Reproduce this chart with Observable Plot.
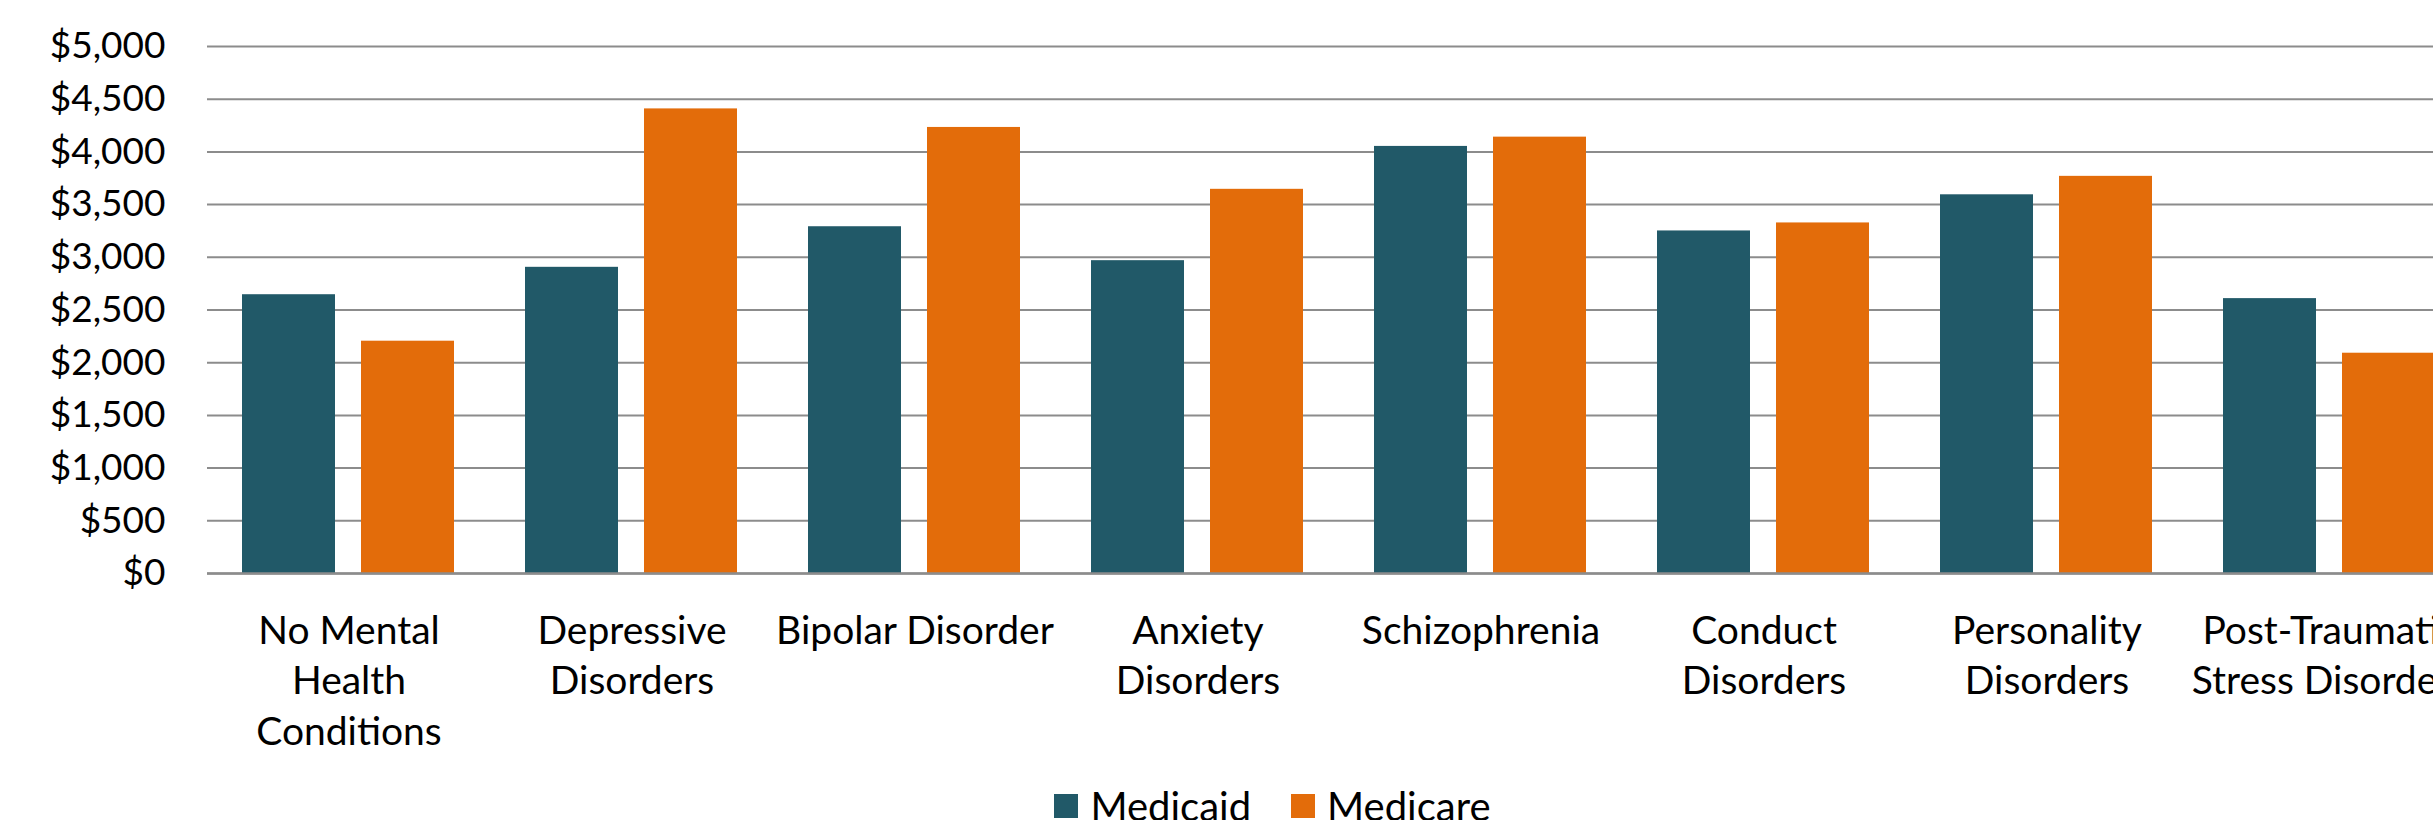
<!DOCTYPE html>
<html>
<head>
<meta charset="utf-8">
<script src="https://cdn.jsdelivr.net/npm/d3@7"></script>
<script src="https://cdn.jsdelivr.net/npm/@observablehq/plot@0.6"></script>
<style>
  html, body { margin: 0; padding: 0; background: #fff; overflow: hidden; }
  #wrap { width: 2545px; font-family: Lato, "Open Sans", sans-serif; color: #000; }
  #legend { display: flex; justify-content: center; align-items: center; margin-top: 16px; font-size: 40px; line-height: 40px; }
  .item { display: flex; align-items: center; margin: 0 20px; }
  .sw { width: 24px; height: 24px; margin-right: 12px; display: inline-block; }
</style>
</head>
<body>
<div id="wrap">
  <div id="chart"></div>
  <div id="legend"></div>
</div>
<script>
const categories = [
  "No Mental Health Conditions",
  "Depressive Disorders",
  "Bipolar Disorder",
  "Anxiety Disorders",
  "Schizophrenia",
  "Conduct Disorders",
  "Personality Disorders",
  "Post-Traumatic Stress Disorders"
];
const categoryLabels = [
  "No Mental\nHealth\nConditions",
  "Depressive\nDisorders",
  "Bipolar Disorder",
  "Anxiety\nDisorders",
  "Schizophrenia",
  "Conduct\nDisorders",
  "Personality\nDisorders",
  "Post-Traumatic\nStress Disorders"
];
const seriesNames = ["Medicaid", "Medicare"];
const seriesColors = ["#215968", "#E36C0A"];
const medicaid = [2645, 2905, 3290, 2968, 4052, 3250, 3593, 2608];
const medicare = [2204, 4408, 4232, 3645, 4140, 3326, 3768, 2090];
const yTicks = [0, 500, 1000, 1500, 2000, 2500, 3000, 3500, 4000, 4500, 5000];

const data = categories.flatMap((c, i) => [
  {category: c, series: seriesNames[0], value: medicaid[i]},
  {category: c, series: seriesNames[1], value: medicare[i]}
]);

const chart = Plot.plot({
  width: 2545,
  height: 770,
  marginLeft: 205,
  marginRight: 72,
  marginTop: 46,
  marginBottom: 197,
  style: {fontFamily: "Lato, 'Open Sans', sans-serif", fontSize: "40px", color: "#000", background: "#fff", overflow: "visible"},
  fx: {domain: categories, padding: 0, label: null},
  x: {domain: seriesNames, paddingInner: 0.215, paddingOuter: 0.295, axis: null},
  y: {domain: [0, 5000], label: null},
  color: {domain: seriesNames, range: seriesColors},
  marks: [
    Plot.gridY(yTicks, {stroke: "#8c8c8c", strokeOpacity: 1, strokeWidth: 2}),
    Plot.barY(data, {fx: "category", x: "series", y: "value", fill: "series"}),
    Plot.ruleY([0], {stroke: "#8c8c8c", strokeWidth: 2.5}),
    Plot.axisY({ticks: yTicks, tickFormat: d3.format("$,"), tickSize: 0, tickPadding: 42, fontSize: 37, label: null}),
    Plot.axisFx({anchor: "bottom", tickFormat: d => categoryLabels[categories.indexOf(d)], tickSize: 0, tickPadding: 34, fontSize: 39, lineHeight: 1.3, label: null})
  ]
});
document.getElementById("chart").appendChild(chart);

const legend = document.getElementById("legend");
seriesNames.forEach((s, i) => {
  const item = document.createElement("div");
  item.className = "item";
  const sw = document.createElement("span");
  sw.className = "sw";
  sw.style.background = seriesColors[i];
  const t = document.createElement("span");
  t.textContent = s;
  item.appendChild(sw);
  item.appendChild(t);
  legend.appendChild(item);
});
</script>
</body>
</html>
